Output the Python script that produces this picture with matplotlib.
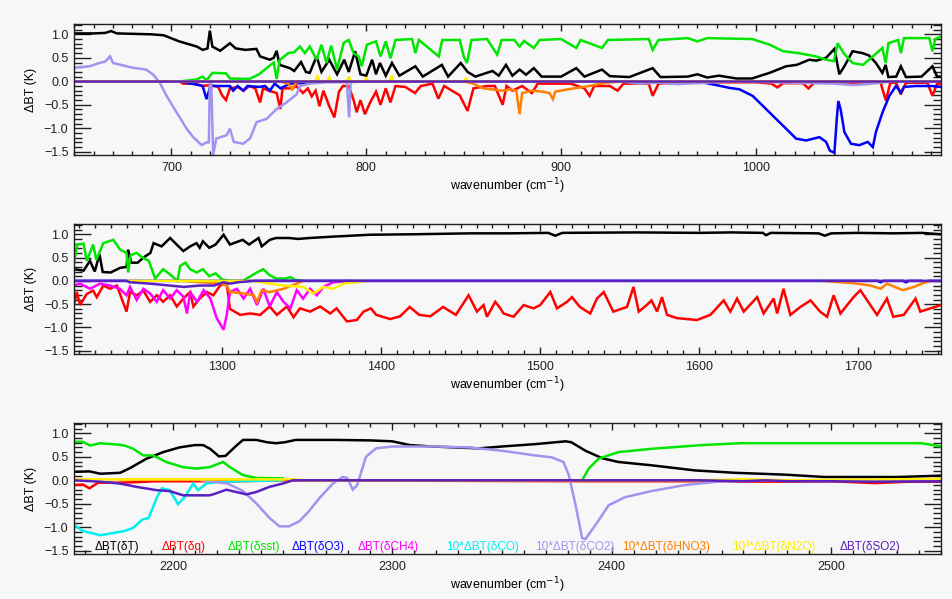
import numpy as np
import matplotlib
matplotlib.use("Agg")
import matplotlib.pyplot as plt
from matplotlib.ticker import MultipleLocator

plt.rcParams['font.family'] = ['Liberation Sans', 'DejaVu Sans']
plt.rcParams['mathtext.fontset'] = 'dejavusans'

# ---------------- data (wavenumber, dBT) ----------------
# panel 1 : 650-1095 cm-1
p1_T = [(650, 1.02), (660, 1.02), (666, 1.03), (669, 1.07), (672, 1.02), (690, 1.0), (696, 0.98),
        (704, 0.85), (713, 0.74), (716, 0.67), (718.5, 0.7), (719.7, 1.08), (721, 0.74), (725, 0.65),
        (730, 0.81), (733, 0.7), (738, 0.67), (743.6, 0.69), (745.5, 0.53), (750.5, 0.46), (752.5, 0.5),
        (754, 0.65), (755.5, 0.35), (760.8, 0.28), (763, 0.22), (766.5, 0.41), (769, 0.2), (771, 0.18),
        (774.5, 0.53), (777, 0.2), (781, 0.46), (785, 0.15), (788.7, 0.46), (791, 0.2), (794.3, 0.64),
        (797, 0.15), (800, 0.12), (803, 0.46), (805, 0.15), (807, 0.39), (810, 0.12), (813.2, 0.39),
        (817, 0.12), (825.2, 0.32), (829, 0.1), (838.8, 0.35), (842, 0.1), (848.5, 0.39), (852, 0.2),
        (856, 0.1), (864.8, 0.22), (868, 0.12), (871.7, 0.35), (875, 0.12), (878.7, 0.25), (882, 0.14),
        (886, 0.28), (890, 0.1), (900, 0.1), (907.8, 0.28), (912, 0.1), (921, 0.25), (925, 0.11),
        (935, 0.09), (947, 0.28), (951, 0.09), (965, 0.1), (970, 0.15), (975, 0.08), (981, 0.12),
        (990, 0.06), (998, 0.06), (1007, 0.18), (1015.5, 0.32), (1021, 0.35), (1027.4, 0.46),
        (1031, 0.44), (1036, 0.5), (1040.3, 0.69), (1042.8, 0.15), (1045.4, 0.32), (1049.6, 0.64),
        (1054.8, 0.6), (1058, 0.55), (1061.6, 0.39), (1064.9, 0.18), (1066.6, 0.35), (1068, 0.09),
        (1072, 0.1), (1074.4, 0.32), (1077, 0.09), (1085, 0.1), (1090.6, 0.32), (1093, 0.1), (1095, 0.1)]
p1_q = [(650, 0.0), (704, 0.0), (706, -0.05), (712, -0.05), (716, -0.1), (720, -0.08), (724, -0.12),
        (726, -0.3), (728, -0.4), (730, -0.15), (734, -0.12), (737, -0.2), (740, -0.1), (743, -0.15),
        (745.5, -0.45), (747, -0.15), (750, -0.2), (754, -0.25), (755.9, -0.59), (757, -0.15),
        (762, -0.15), (764, -0.1), (767.5, -0.25), (770, -0.15), (772, -0.32), (774, -0.2),
        (776, -0.53), (778, -0.2), (781, -0.53), (783.6, -0.77), (786, -0.22), (788, -0.1),
        (791, -0.1), (793.5, -0.4), (795.1, -0.66), (797, -0.4), (799.3, -0.7), (802, -0.45),
        (805, -0.22), (807.3, -0.5), (810, -0.15), (812.4, -0.45), (815, -0.1), (820, -0.12),
        (825, -0.25), (828, -0.1), (834, -0.05), (837, -0.37), (840, -0.1), (848, -0.3), (852, -0.63),
        (855, -0.15), (862, -0.1), (866, -0.1), (870, -0.5), (872, -0.1), (875, -0.2), (880, -0.1),
        (885, -0.25), (888, -0.05), (905, -0.05), (912, -0.15), (914.6, -0.31), (917, -0.1),
        (925, -0.1), (929, -0.2), (932, -0.05), (945, -0.05), (947, -0.31), (950, -0.05),
        (960, -0.03), (970, -0.02), (1000, -0.02), (1008, -0.05), (1011, -0.13), (1014, -0.04),
        (1024, -0.04), (1027, -0.15), (1030, -0.03), (1064, -0.03), (1066.7, -0.41), (1069, -0.03),
        (1072, -0.03), (1074.4, -0.28), (1077, -0.03), (1088, -0.03), (1090.6, -0.31), (1093, -0.05),
        (1095, -0.05)]
p1_sst = [(705, 0.0), (712.9, 0.04), (716, 0.1), (718, 0.02), (721, 0.18), (728, 0.17), (730, 0.06),
          (740, 0.05), (745, 0.15), (750, 0.32), (752.5, 0.4), (754, 0.05), (755.5, 0.45), (760, 0.6),
          (763, 0.62), (766, 0.74), (768.5, 0.6), (771, 0.74), (774.5, 0.46), (777, 0.78), (779.6, 0.39),
          (782, 0.76), (785, 0.25), (788.4, 0.82), (791, 0.88), (793.5, 0.6), (796, 0.53), (797.7, 0.32),
          (800.3, 0.78), (805, 0.85), (807.3, 0.53), (810, 0.85), (812.4, 0.49), (815, 0.88),
          (823.5, 0.9), (825.2, 0.6), (827, 0.88), (837.2, 0.53), (839, 0.88), (848, 0.88), (850, 0.53),
          (851.7, 0.39), (854, 0.88), (862, 0.9), (867.2, 0.57), (869.5, 0.88), (876, 0.88),
          (878.7, 0.74), (881, 0.86), (886, 0.71), (889, 0.88), (900, 0.9), (907.8, 0.71), (910, 0.88),
          (921, 0.71), (924, 0.88), (945, 0.9), (947, 0.67), (950, 0.88), (965, 0.92), (970, 0.85),
          (975, 0.92), (998, 0.9), (1007, 0.78), (1014, 0.64), (1022, 0.6), (1030.9, 0.53),
          (1036, 0.46), (1040, 0.43), (1042, 0.81), (1045, 0.6), (1049.6, 0.39), (1055, 0.35),
          (1060, 0.53), (1064.9, 0.71), (1066.6, 0.39), (1068, 0.81), (1073, 0.88), (1074.4, 0.6),
          (1076, 0.92), (1089, 0.92), (1090.6, 0.64), (1092, 0.9), (1095, 0.95)]
p1_O3 = [(650, 0.0), (705, 0.0), (710, -0.05), (714, -0.08), (716, -0.1), (718, -0.38), (720, -0.1),
         (726, -0.1), (730, -0.1), (731.7, -0.2), (734, -0.1), (736.9, -0.2), (739, -0.1), (745, -0.12),
         (748, -0.1), (750.5, -0.2), (753, -0.05), (756, -0.15), (760.8, -0.05), (771, -0.03),
         (775, 0.0), (970, 0.0), (979.6, -0.08), (986.4, -0.14), (991.5, -0.17), (998.3, -0.31),
         (1003.5, -0.52), (1008.6, -0.73), (1015.5, -1.01), (1020.6, -1.22), (1025.7, -1.26),
         (1032.6, -1.19), (1036, -1.29), (1038, -1.48), (1040.3, -1.52), (1041.5, -0.8),
         (1042.3, -0.42), (1043.5, -0.6), (1045.4, -1.08), (1048.8, -1.33), (1053.1, -1.36),
         (1057.4, -1.29), (1060, -1.4), (1061.6, -1.08), (1065, -0.66), (1068.5, -0.31),
         (1071.9, -0.1), (1074.4, -0.24), (1076, -0.12), (1082, -0.1), (1090, -0.1), (1095, -0.12)]
p1_CO2 = [(650, 0.29), (658, 0.32), (663, 0.39), (666, 0.42), (668.5, 0.53), (670, 0.39), (680, 0.29),
          (687, 0.25), (690.7, 0.14), (694, -0.03), (697.5, -0.31), (702.6, -0.66), (707.8, -1.01),
          (711.2, -1.19), (715.5, -1.36), (718, -1.3), (719.2, -1.3), (719.7, 0.0), (720.5, -0.1),
          (721.4, -1.57), (723, -1.22), (728.3, -1.15), (730, -1.01), (732, -1.29), (736.8, -1.33),
          (740.3, -1.22), (743.7, -0.87), (748.8, -0.8), (754, -0.59), (759, -0.45), (764.2, -0.28),
          (766, -0.1), (771, -0.05), (780, -0.02), (790, -0.02), (791.2, -0.77), (792, -0.02),
          (800, 0.0), (930, 0.0), (940, -0.05), (950, -0.03), (960, -0.06), (975, -0.03), (985, 0.0),
          (1040, -0.05), (1050, -0.08), (1060, -0.05), (1070, 0.0), (1095, 0.0)]
p1_HNO3 = [(650, 0.0), (755, 0.0), (760, -0.05), (762, -0.17), (764, -0.02), (770, 0.0), (850, 0.0),
           (855, -0.05), (860, -0.15), (870, -0.2), (873.6, -0.17), (877, -0.2), (878.7, -0.7),
           (880, -0.25), (885, -0.2), (890.6, -0.22), (894, -0.25), (895.8, -0.38), (897, -0.22),
           (905, -0.16), (914.6, -0.1), (923, -0.03), (932, 0.0), (1095, 0.0)]
p1_N2O = [(650, 0.0), (774, 0.0), (775, 0.12), (776, 0.0), (780, 0.0), (781, 0.08), (782, 0.0),
          (790, 0.0), (791, 0.1), (792, 0.0), (799, 0.0), (800, 0.06), (801, 0.0), (812, 0.0),
          (813, 0.12), (814, 0.0), (850, 0.0), (851, 0.06), (852, 0.0), (1095, 0.0)]
p1_SO2 = [(650, 0.0), (1095, 0.0)]

# panel 2 : 1207-1752 cm-1
p2_T = [(1207, 0.25), (1213, 0.22), (1217, 0.43), (1220, 0.2), (1223, 0.57), (1225, 0.19), (1230, 0.18),
        (1236, 0.28), (1240, 0.3), (1241, 0.67), (1243, 0.39), (1247, 0.39), (1250.6, 0.5), (1255, 0.6),
        (1257, 0.81), (1262, 0.74), (1267.4, 0.92), (1271.5, 0.78), (1275.7, 0.64), (1280, 0.74),
        (1284, 0.81), (1286, 0.71), (1288, 0.85), (1292, 0.71), (1296, 0.78), (1301, 0.99),
        (1305, 0.78), (1313, 0.88), (1317, 0.78), (1323, 0.92), (1325, 0.74), (1330, 0.88),
        (1334, 0.92), (1342, 0.92), (1348, 0.9), (1355, 0.92), (1370, 0.95), (1393, 0.99),
        (1420, 1.0), (1456, 1.02), (1480, 1.02), (1505, 1.03), (1509.5, 0.97), (1514, 1.03),
        (1560, 1.04), (1600, 1.03), (1620, 1.04), (1640, 1.03), (1642, 0.98), (1645, 1.03),
        (1675, 1.02), (1679, 0.97), (1683, 1.02), (1700, 1.03), (1722, 1.02), (1740, 1.03), (1752, 1.0)]
p2_q = [(1207, -0.52), (1208.7, -0.24), (1210.8, -0.52), (1215, -0.28), (1219, -0.21), (1221.3, -0.35),
        (1225.4, -0.1), (1229.6, -0.17), (1233.9, -0.1), (1240, -0.66), (1242.2, -0.24),
        (1246.4, -0.31), (1250.6, -0.21), (1254.8, -0.45), (1259, -0.31), (1263, -0.45),
        (1267.4, -0.31), (1271.6, -0.55), (1275.7, -0.38), (1280, -0.24), (1282, -0.55), (1286, -0.38),
        (1290.5, -0.24), (1294.6, -0.31), (1298.8, -0.1), (1303, -0.06), (1305, -0.6), (1311.4, -0.73),
        (1317.7, -0.7), (1324, -0.73), (1330, -0.55), (1334.5, -0.73), (1340.8, -0.55), (1345, -0.78),
        (1349, -0.59), (1355.4, -0.66), (1361.7, -0.55), (1368, -0.7), (1372, -0.59), (1378.5, -0.87),
        (1384.8, -0.84), (1389, -0.66), (1393.6, -0.59), (1397, -0.73), (1405.7, -0.82),
        (1412, -0.76), (1418, -0.56), (1424, -0.73), (1431, -0.76), (1439, -0.56), (1447, -0.73),
        (1455, -0.31), (1460.3, -0.66), (1464.4, -0.52), (1466.6, -0.77), (1471.8, -0.45),
        (1475, -0.59), (1477, -0.7), (1483.3, -0.77), (1489.6, -0.52), (1495.9, -0.59), (1500, -0.52),
        (1506.4, -0.24), (1510.6, -0.59), (1516.9, -0.45), (1520, -0.35), (1525, -0.56),
        (1531.5, -0.7), (1535.7, -0.38), (1540, -0.24), (1546, -0.66), (1554.6, -0.56),
        (1558.7, -0.13), (1562, -0.66), (1567, -0.52), (1570, -0.42), (1573.5, -0.66),
        (1576.6, -0.35), (1579.8, -0.73), (1586, -0.8), (1598.6, -0.84), (1607, -0.73),
        (1615.4, -0.42), (1619.6, -0.66), (1623.8, -0.38), (1628, -0.66), (1636.4, -0.35),
        (1640.5, -0.7), (1646.8, -0.38), (1649, -0.7), (1653, -0.17), (1657.3, -0.73),
        (1663.6, -0.56), (1670, -0.42), (1676, -0.66), (1680.4, -0.77), (1684.5, -0.31),
        (1688.8, -0.7), (1697, -0.35), (1701.3, -0.2), (1707.6, -0.52), (1711.8, -0.73),
        (1718, -0.38), (1722, -0.77), (1728.6, -0.73), (1736, -0.38), (1739, -0.66),
        (1745.4, -0.59), (1752, -0.52)]
p2_sst = [(1207, 0.39), (1209, 0.78), (1213, 0.8), (1215, 0.43), (1219, 0.78), (1221, 0.45),
          (1225.4, 0.81), (1231.7, 0.88), (1236, 0.67), (1240, 0.6), (1241, 0.18), (1242.5, 0.55),
          (1246.4, 0.6), (1250, 0.5), (1254, 0.43), (1258, 0.05), (1263, 0.25), (1268, 0.12),
          (1272, 0.0), (1273.7, 0.32), (1277, 0.39), (1280, 0.25), (1284, 0.18), (1288, 0.25),
          (1292, 0.1), (1296, 0.16), (1300, 0.03), (1305, 0.0), (1313, 0.0), (1322, 0.18),
          (1326, 0.25), (1330, 0.12), (1334, 0.05), (1340, 0.05), (1343, 0.08), (1346, 0.02), (1350, 0.0)]
p2_O3 = [(1207, 0.0), (1712, 0.0), (1714, -0.03), (1716, 0.0), (1728, 0.0), (1730, -0.03), (1732, 0.0),
         (1740, 0.0), (1742, -0.03), (1744, 0.0), (1752, 0.0)]
p2_CH4 = [(1207, -0.1), (1210.8, -0.06), (1217, -0.17), (1223.3, -0.06), (1229.6, -0.1),
          (1235.8, -0.17), (1240, -0.31), (1242.2, -0.13), (1246.4, -0.41), (1250.6, -0.17),
          (1254.8, -0.27), (1259, -0.45), (1263, -0.2), (1267.4, -0.38), (1271.6, -0.2),
          (1275.7, -0.34), (1278, -0.7), (1280, -0.24), (1284.3, -0.45), (1288.5, -0.2),
          (1292.7, -0.38), (1296.7, -0.8), (1301, -1.05), (1303, -0.73), (1305, -0.24),
          (1309.4, -0.17), (1313.6, -0.38), (1317.7, -0.17), (1322, -0.52), (1326, -0.17),
          (1330, -0.55), (1334.5, -0.24), (1338.7, -0.45), (1343, -0.59), (1347, -0.2),
          (1351, -0.38), (1355.4, -0.17), (1359.6, -0.31), (1363.8, -0.13), (1368, -0.06),
          (1370, -0.03), (1380, 0.0)]
p2_HNO3_a = [(1275, 0.0), (1298.8, -0.06), (1303, -0.1), (1305, -0.24), (1313.6, -0.27),
             (1320, -0.31), (1322, -0.45), (1325, -0.2), (1330, -0.24), (1338.7, -0.17),
             (1347, -0.06), (1351, 0.0)]
p2_HNO3_b = [(1677, 0.0), (1697, -0.05), (1707.6, -0.1), (1714, -0.17), (1718, -0.06), (1728, -0.2),
             (1735, -0.13), (1742, -0.03), (1745, 0.0)]
p2_N2O = [(1240, 0.0), (1320, 0.0), (1330, -0.06), (1338.7, -0.1), (1351, -0.13), (1357.5, -0.27),
          (1363.8, -0.13), (1370, -0.17), (1376.4, -0.06), (1384.8, -0.03), (1391, 0.0)]
p2_SO2 = [(1207, 0.0), (1240, 0.0), (1242, -0.03), (1255, -0.06), (1267, -0.1), (1276, -0.13),
          (1286, -0.1), (1295, -0.1), (1301, -0.03), (1305, -0.06), (1310, -0.03), (1320, 0.0),
          (1752, 0.0)]

# panel 3 : 2155-2550 cm-1
p3_T = [(2155, 0.18), (2162, 0.19), (2167, 0.14), (2176, 0.16), (2180.5, 0.26), (2188, 0.46),
        (2195.6, 0.6), (2203, 0.7), (2210, 0.75), (2213.8, 0.75), (2217, 0.67), (2221, 0.51),
        (2224, 0.52), (2229, 0.74), (2232, 0.86), (2238, 0.86), (2243, 0.81), (2247, 0.79),
        (2251, 0.81), (2256, 0.86), (2274, 0.86), (2290, 0.85), (2300, 0.83), (2308, 0.75),
        (2318, 0.72), (2339.5, 0.68), (2350, 0.72), (2365, 0.77), (2379, 0.83), (2381.6, 0.81),
        (2388, 0.63), (2395.6, 0.47), (2403, 0.39), (2418, 0.32), (2438, 0.21), (2456, 0.16),
        (2479, 0.12), (2497, 0.07), (2530, 0.07), (2544, 0.09), (2550, 0.1)]
p3_q = [(2155, -0.1), (2159, -0.09), (2162, -0.17), (2166, -0.05), (2176, -0.05), (2183, -0.04),
        (2192, -0.02), (2210, -0.02), (2230, -0.02), (2250, 0.0), (2390, -0.02), (2450, -0.02),
        (2470, -0.03), (2500, -0.02), (2520, -0.06), (2535, -0.03), (2550, -0.03)]
p3_sst_a = [(2155, 0.82), (2159, 0.82), (2162.3, 0.74), (2166.8, 0.79), (2175, 0.76), (2178, 0.74),
            (2182, 0.67), (2186.5, 0.53), (2191, 0.53), (2197, 0.39), (2204.7, 0.28), (2210.8, 0.25),
            (2216.8, 0.28), (2222.9, 0.39), (2226, 0.28), (2232, 0.11), (2238, 0.05), (2250, 0.04)]
p3_sst_b = [(2386.5, 0.0), (2389.5, 0.25), (2394, 0.46), (2403, 0.6), (2418, 0.67), (2441, 0.75),
            (2459, 0.79), (2500, 0.79), (2541, 0.79), (2545, 0.76), (2550, 0.72)]
p3_CO = [(2155, -0.95), (2159, -1.08), (2167, -1.17), (2173, -1.12), (2178, -1.08), (2182, -1.01),
         (2186, -0.84), (2189, -0.8), (2192.6, -0.38), (2195, -0.17), (2198.6, -0.21),
         (2202.4, -0.51), (2205.5, -0.35), (2209.3, -0.07), (2211.5, -0.21), (2215.3, -0.07),
         (2220, -0.04), (2230, -0.02), (2240, -0.01), (2250, 0.0)]
p3_CO2 = [(2213, 0.0), (2225, -0.07), (2232, -0.23), (2238, -0.49), (2244, -0.8), (2248.6, -0.98),
          (2253, -0.98), (2257.7, -0.87), (2262, -0.66), (2266.8, -0.38), (2272.9, -0.07),
          (2277.4, 0.07), (2279.5, 0.05), (2282, -0.2), (2284, -0.1), (2288, 0.5), (2292.6, 0.68),
          (2300, 0.72), (2320, 0.72), (2335, 0.7), (2350, 0.63), (2365, 0.53), (2372.6, 0.49),
          (2378, 0.39), (2380.5, 0.1), (2383.5, -0.53), (2386.5, -1.23), (2388, -1.25),
          (2392.6, -0.95), (2398.6, -0.53), (2406, -0.36), (2418, -0.23), (2433.5, -0.1),
          (2448, -0.03), (2465, 0.0), (2550, 0.0)]
p3_HNO3 = [(2175, 0.02), (2230, 0.02)]
p3_N2O = [(2155, 0.02), (2255, 0.02), (2260, 0.0), (2440, 0.0), (2460, 0.02), (2480, 0.0),
          (2500, 0.01), (2530, 0.02), (2550, 0.03)]
p3_SO2 = [(2155, 0.0), (2167, -0.03), (2176, -0.07), (2183.5, -0.14), (2192.6, -0.21),
          (2198.6, -0.23), (2204.7, -0.32), (2216.8, -0.32), (2219, -0.29), (2224.4, -0.2),
          (2229, -0.25), (2233.5, -0.3), (2238, -0.25), (2244, -0.14), (2250, -0.07), (2254.7, 0.0),
          (2440, 0.0), (2460, -0.02), (2470, 0.0), (2480, -0.02), (2500, -0.02), (2520, -0.03),
          (2550, -0.02)]

legend_labels = ["ΔBT(δT)", "ΔBT(δq)", "ΔBT(δsst)", "ΔBT(δO3)", "ΔBT(δCH4)", "10*ΔBT(δCO)",
                 "10*ΔBT(δCO2)", "10*ΔBT(δHNO3)", "10³*ΔBT(δN2O)", "ΔBT(δSO2)"]
legend_xpos = [0.049, 0.126, 0.207, 0.282, 0.362, 0.471, 0.577, 0.683, 0.807, 0.918]

# colours for T, q, sst, O3, CH4, CO, CO2, HNO3, N2O, SO2
col = {"T": "#000000", "q": "#ff0000", "sst": "#00e600", "O3": "#0000ff", "CH4": "#ff00ff",
       "CO": "#00f0f0", "CO2": "#a094f0", "HNO3": "#ff8000", "N2O": "#ffee00", "SO2": "#5a20c0"}
legend_cols = [col[k] for k in ["T", "q", "sst", "O3", "CH4", "CO", "CO2", "HNO3", "N2O", "SO2"]]

panels = [
    ((650, 1095), [(p1_T, "T"), (p1_q, "q"), (p1_sst, "sst"), (p1_O3, "O3"), (p1_CO2, "CO2"),
                   (p1_HNO3, "HNO3"), (p1_N2O, "N2O"), (p1_SO2, "SO2")]),
    ((1207, 1752), [(p2_T, "T"), (p2_q, "q"), (p2_sst, "sst"), (p2_O3, "O3"), (p2_CH4, "CH4"),
                    (p2_HNO3_a, "HNO3"), (p2_HNO3_b, "HNO3"), (p2_N2O, "N2O"), (p2_SO2, "SO2")]),
    ((2155, 2550), [(p3_T, "T"), (p3_q, "q"), (p3_sst_a, "sst"), (p3_sst_b, "sst"), (p3_CO, "CO"),
                    (p3_CO2, "CO2"), (p3_HNO3, "HNO3"), (p3_N2O, "N2O"), (p3_SO2, "SO2")]),
]

bg = "#f7f7f7"
fig = plt.figure(figsize=(9.53, 5.99), dpi=100, facecolor=bg)

# axes boxes in figure fraction (left, bottom, width, height)
boxes = [(0.0777, 0.7412, 0.9097, 0.2187),
         (0.0777, 0.4090, 0.9097, 0.2170),
         (0.0777, 0.0751, 0.9097, 0.2187)]

for (xlim, series), box in zip(panels, boxes):
    ax = fig.add_axes(box)
    ax.set_facecolor(bg)
    for pts, key in series:
        arr = np.array(pts).T
        ax.plot(arr[0], arr[1], color=col[key], lw=1.8, solid_joinstyle="miter")
    ax.set_xlim(*xlim)
    ax.set_ylim(-1.57, 1.22)
    ax.xaxis.set_major_locator(MultipleLocator(100))
    ax.xaxis.set_minor_locator(MultipleLocator(10))
    ax.yaxis.set_major_locator(MultipleLocator(0.5))
    ax.yaxis.set_minor_locator(MultipleLocator(0.1))
    ax.tick_params(axis="both", which="both", direction="in", top=True, right=True,
                   labelsize=9, colors="#202020")
    ax.tick_params(axis="y", which="major", length=12, width=1, pad=4)
    ax.tick_params(axis="y", which="minor", length=6, width=1)
    ax.tick_params(axis="x", which="major", length=5, width=1, pad=5)
    ax.tick_params(axis="x", which="minor", length=3, width=1)
    ax.set_yticks([-1.5, -1.0, -0.5, 0.0, 0.5, 1.0])
    ax.set_yticklabels(["\u22121.5", "\u22121.0", "\u22120.5", "0.0", "0.5", "1.0"])
    for s in ax.spines.values():
        s.set_color("#202020")
        s.set_linewidth(1)
    ax.set_ylabel("ΔBT (K)", fontsize=9, labelpad=5)
    ax.set_xlabel("wavenumber (cm$^{-1}$)", fontsize=9, labelpad=2)

for lab, xp, c in zip(legend_labels, legend_xpos, legend_cols):
    ax.text(xp, 0.056, lab, color=c, fontsize=8.5, ha="center", va="center",
            transform=ax.transAxes)

fig.savefig("out.png", dpi=100, facecolor=bg)
